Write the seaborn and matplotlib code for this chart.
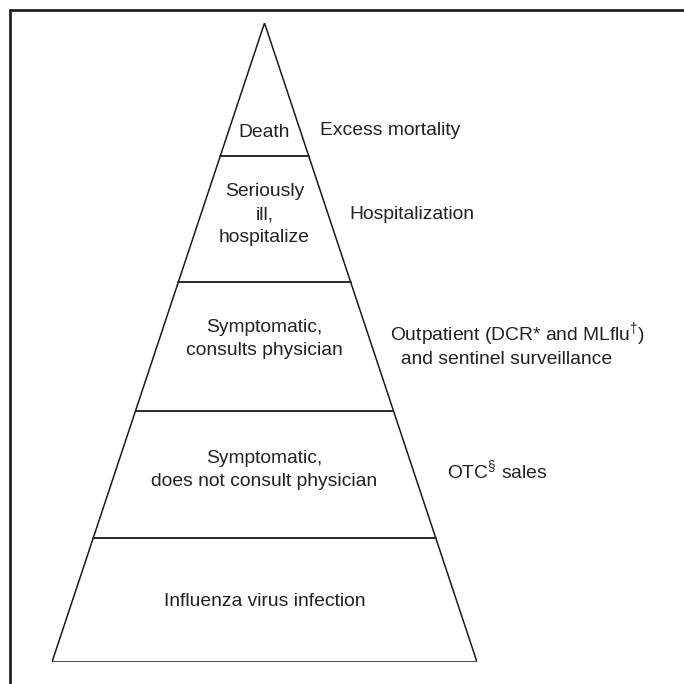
import matplotlib
matplotlib.use("Agg")
import matplotlib.pyplot as plt
import seaborn as sns
import pandas as pd
from matplotlib.lines import Line2D

# ---- data ----
tiers = [
    "Influenza virus infection",
    "Symptomatic,\ndoes not consult physician",
    "Symptomatic,\nconsults physician",
    "Seriously\nill,\nhospitalize",
    "Death",
]
# tier boundaries as fraction of pyramid height (base = 0, apex = 1)
boundaries = [0.0, 0.194, 0.393, 0.595, 0.792, 1.0]
surveillance = [
    "",
    r"OTC$^{\S}$ sales",
    "Outpatient (DCR* and MLflu$^{\\dagger}$)\n  and sentinel surveillance",
    "Hospitalization",
    "Excess mortality",
]

# ---- style ----
sns.set_theme(style="white")
plt.rcParams["font.family"] = ["Liberation Sans", "DejaVu Sans"]
plt.rcParams["mathtext.fontset"] = "custom"
plt.rcParams["mathtext.rm"] = "Liberation Sans"
plt.rcParams["mathtext.it"] = "Liberation Sans:italic"
plt.rcParams["mathtext.bf"] = "Liberation Sans:bold"
TXT = "#222222"
LINE = "#1a1a1a"
FS = 13.9

fig = plt.figure(figsize=(6.84, 6.84), dpi=100)
fig.patch.set_facecolor("white")
ax = fig.add_axes([52 / 684, 22 / 684, 425 / 684, 639 / 684])
ax.set_xlim(-1, 1)
ax.set_ylim(0, 1)
ax.axis("off")

# pyramid outline
outline = pd.DataFrame({"x": [-1, 0, 1, -1], "h": [0, 1, 0, 0], "o": range(4)})
sns.lineplot(data=outline, x="x", y="h", sort=False, estimator=None,
             color=LINE, lw=1.1, ax=ax, legend=False)

# tier dividers
rows = []
for i, b in enumerate(boundaries[1:-1]):
    hw = 1 - b
    rows.append({"x": -hw, "h": b, "tier": i})
    rows.append({"x": hw, "h": b, "tier": i})
div = pd.DataFrame(rows)
sns.lineplot(data=div, x="x", y="h", units="tier", estimator=None, sort=False,
             color="#2a2a2a", lw=1.4, ax=ax, legend=False)

# tier labels
label_h = [0.095, 0.30, 0.505, 0.70, 0.828]
for t, h in zip(tiers, label_h):
    ax.text(0, h, t, ha="center", va="center", fontsize=FS, color=TXT,
            linespacing=1.45)

# surveillance labels (right side)
sv_x = [None, 0.857, 0.590, 0.398, 0.261]
sv_h = [None, 0.301, 0.497, 0.700, 0.831]
for s, x, h in zip(surveillance, sv_x, sv_h):
    if not s:
        continue
    ax.text(x, h, s, ha="left", va="center", fontsize=FS, color=TXT,
            linespacing=1.25, clip_on=False)

# frame (top and left edges)
bx = 10 / 684
by = 1 - 10 / 684
fig.add_artist(Line2D([bx, 1.0], [by, by], transform=fig.transFigure,
                      color="#222222", lw=2.0))
fig.add_artist(Line2D([bx, bx], [0.0, by], transform=fig.transFigure,
                      color="#222222", lw=2.0))

fig.savefig("out.png", dpi=100, facecolor="white")
